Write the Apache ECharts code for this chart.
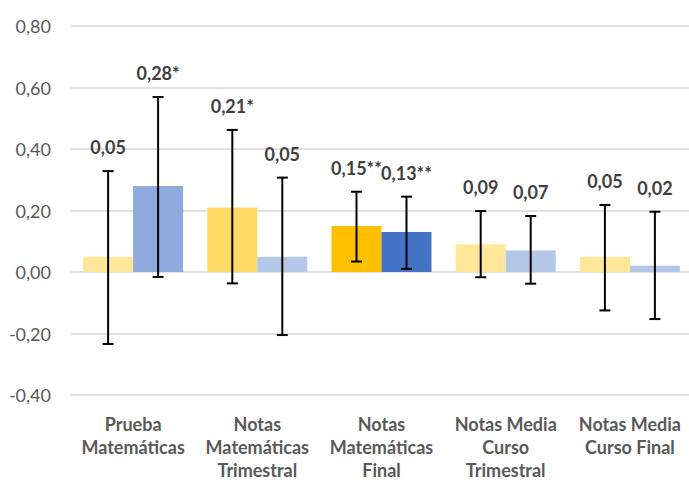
<!DOCTYPE html>
<html><head><meta charset="utf-8">
<script src="https://cdn.jsdelivr.net/npm/echarts@6/dist/echarts.min.js"></script>
<style>html,body{margin:0;padding:0;background:#fff;overflow:hidden}#c{width:689px;height:482px}</style>
</head><body><div id="c"></div>
<script>
const categories = ["Prueba\nMatemáticas","Notas\nMatemáticas\nTrimestral","Notas\nMatemáticas\nFinal","Notas Media\nCurso\nTrimestral","Notas Media\nCurso Final"];
const seriesA = [0.05, 0.21, 0.15, 0.09, 0.05];
const seriesB = [0.28, 0.05, 0.13, 0.07, 0.02];
const lowA = [-0.234, -0.037, 0.034, -0.017, -0.125];
const highA = [0.328, 0.462, 0.261, 0.198, 0.218];
const lowB = [-0.016, -0.205, 0.010, -0.038, -0.153];
const highB = [0.569, 0.307, 0.245, 0.182, 0.196];
const labelsA = ["0,05","0,21*","0,15**","0,09","0,05"];
const labelsB = ["0,28*","0,05","0,13**","0,07","0,02"];
const colorsA = ["#FFE699","#FFD966","#FFC000","#FFE699","#FFE699"];
const colorsB = ["#8FAADC","#B4C7E7","#4472C4","#B4C7E7","#B4C7E7"];
const yTicks = [-0.4, -0.2, 0, 0.2, 0.4, 0.6, 0.8];

const gapRatio = 0.195;
function errSeries(low, high, labels, side) {
  return {
    type: 'custom',
    z: 10,
    clip: false,
    data: low.map((l, i) => [i, l, high[i]]),
    renderItem: function (params, api) {
      const i = api.value(0);
      const catW = api.size([1, 0])[0];
      const bw = catW * (1 - gapRatio) / 2;
      const c = api.coord([i, 0]);
      const x = c[0] + side * bw / 2;
      const yLo = api.coord([i, api.value(1)])[1];
      const yHi = api.coord([i, api.value(2)])[1];
      const cap = 5.5;
      const st = { stroke: '#000', lineWidth: 2 };
      return {
        type: 'group',
        children: [
          { type: 'line', shape: { x1: x, y1: yHi, x2: x, y2: yLo }, style: st },
          { type: 'line', shape: { x1: x - cap, y1: yHi, x2: x + cap, y2: yHi }, style: st },
          { type: 'line', shape: { x1: x - cap, y1: yLo, x2: x + cap, y2: yLo }, style: st },
          { type: 'text', x: x, y: yHi - 24, style: { text: labels[i], fill: '#404040', font: 'bold 18px Lato, sans-serif', align: 'center', verticalAlign: 'middle' } }
        ]
      };
    }
  };
}

const chart = echarts.init(document.getElementById('c'), null, { renderer: 'svg' });
chart.setOption({
  animation: false,
  grid: { left: 71, right: -3, top: 26, bottom: 87, containLabel: false, outerBoundsMode: 'none' },
  xAxis: {
    type: 'category',
    data: categories,
    axisLine: { show: false },
    axisTick: { show: false },
    axisLabel: { color: '#595959', fontWeight: 'bold', fontSize: 18, fontFamily: 'Lato, sans-serif', lineHeight: 23, margin: 17, interval: 0 }
  },
  yAxis: {
    type: 'value',
    min: -0.4, max: 0.8, interval: 0.2,
    axisLine: { show: false },
    axisTick: { show: false },
    splitLine: { lineStyle: { color: '#D9D9D9', width: 1.5 } },
    axisLabel: { color: '#595959', fontSize: 18, fontFamily: 'Lato, sans-serif', margin: 20,
      formatter: v => v.toFixed(2).replace('.', ',') }
  },
  series: [
    { type: 'bar', barGap: '0%', barCategoryGap: (gapRatio * 100) + '%',
      data: seriesA.map((v, i) => ({ value: v, itemStyle: { color: colorsA[i] } })) },
    { type: 'bar', barGap: '0%', barCategoryGap: (gapRatio * 100) + '%',
      data: seriesB.map((v, i) => ({ value: v, itemStyle: { color: colorsB[i] } })) },
    errSeries(lowA, highA, labelsA, -1),
    errSeries(lowB, highB, labelsB, 1)
  ]
});
</script></body></html>
